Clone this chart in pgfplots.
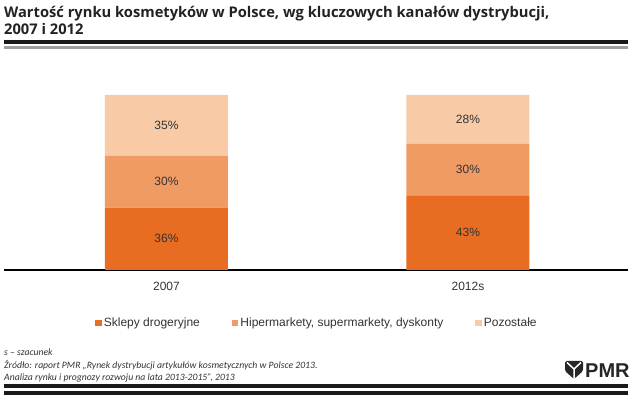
\documentclass[border=0pt]{standalone}
\usepackage{pgfplots}
\pgfplotsset{compat=1.18}
\usepackage{fontspec}
\setmainfont{Liberation Sans}
\newfontfamily\titlefont{Open Sans}
\newfontfamily\notefont[Ligatures=TeX]{Carlito}
\definecolor{cA}{HTML}{E96C23}
\definecolor{cB}{HTML}{F19B64}
\definecolor{cC}{HTML}{F8CAA5}
\definecolor{txt}{HTML}{333333}
\definecolor{ttl}{HTML}{222222}
\begin{document}
\begin{tikzpicture}
\path[use as bounding box] (0pt,0pt) rectangle (633pt,399pt);
% main axis
\begin{axis}[
  at={(4pt,129pt)}, anchor=south west,
  scale only axis, width=624pt, height=175pt,
  xmin=-0.539, xmax=1.531, ymin=0, ymax=101,
  ybar stacked, bar width=0.408,
  axis x line*=bottom, hide y axis,
  axis line style={black, line width=1.1pt},
  xtick={0,1}, xticklabels={2007,2012s},
  major tick length=0,
  xticklabel style={font=\fontsize{12}{14}\selectfont, text=txt, yshift=-9pt},
  clip=false,
  legend columns=3,
  legend style={draw=none, at={(0.5016,-0.303)}, anchor=center,
    font=\fontsize{12}{14}\selectfont, text=txt,
    /tikz/every even column/.append style={column sep=30pt}},
  legend image code/.code={\fill[#1] (0pt,-3.2pt) rectangle (6.5pt,3.3pt);},
]
\addplot[fill=cA, draw=none] coordinates {(0,36) (1,43)};
\addplot[fill=cB, draw=none] coordinates {(0,30) (1,30)};
\addplot[fill=cC, draw=none] coordinates {(0,35) (1,28)};
\legend{Sklepy drogeryjne, {Hipermarkety, supermarkety, dyskonty}, Pozosta\l e}
\end{axis}
% labels axis
\begin{axis}[
  at={(4pt,129pt)}, anchor=south west,
  scale only axis, width=624pt, height=175pt,
  xmin=-0.539, xmax=1.531, ymin=0, ymax=101,
  hide axis, clip=false,
  /pgf/number format/assume math mode=true,
]
\addplot[only marks, mark=none, point meta=explicit,
  nodes near coords={\pgfmathprintnumber{\pgfplotspointmeta}\%},
  nodes near coords align=center,
  every node near coord/.append style={anchor=center, text=txt, font=\fontsize{12}{14}\selectfont}]
  table[x=x, y=y, meta=v, row sep=\\] {
  x y v\\
  0 18 36\\
  0 51 30\\
  0 83.5 35\\
  1 21.5 43\\
  1 58 30\\
  1 87 28\\
};
\end{axis}
\begin{scope}[x=1pt,y=1pt]
% title
\node[anchor=base west, inner sep=0, text=ttl, font=\titlefont\bfseries\fontsize{14.7}{17}\selectfont] at (4,399-18) {Wartość rynku kosmetyków w Polsce, wg kluczowych kanałów dystrybucji,};
\node[anchor=base west, inner sep=0, text=ttl, font=\titlefont\bfseries\fontsize{14.7}{17}\selectfont] at (4,399-35) {2007 i 2012};
\fill[black!90] (4,399-44) rectangle (628,399-40);
\fill[black!38] (4,399-49.5) rectangle (628,399-46.5);
% notes
\node[anchor=base west, inner sep=0, text=txt, font=\notefont\itshape\fontsize{9.7}{11}\selectfont] at (4,399-356) {s – szacunek};
\node[anchor=base west, inner sep=0, text=txt, font=\notefont\itshape\fontsize{9.7}{11}\selectfont] at (4,399-368.5) {Źródło: raport PMR „Rynek dystrybucji artykułów kosmetycznych w Polsce 2013.};
\node[anchor=base west, inner sep=0, text=txt, font=\notefont\itshape\fontsize{9.7}{11}\selectfont] at (4,399-381) {Analiza rynku i prognozy rozwoju na lata 2013-2015”, 2013};
\fill[black!90] (4,399-388) rectangle (628,399-384);
\fill[black!90] (4,399-395) rectangle (628,399-391);
% logo
\fill[black!85, rounded corners=1.5pt] (565,399-361) -- (583,399-361) -- (583,399-371) -- (574,399-379) -- (565,399-371) -- cycle;
\draw[white, line width=1.5pt] (567,399-362.5) -- (574,399-369) -- (581,399-362.5) (574,399-369) -- (574,399-378);
\node[anchor=base west, inner sep=0, text=black!85, font=\bfseries\fontsize{20}{22}\selectfont] at (585,399-378) {PMR};
\end{scope}
\end{tikzpicture}
\end{document}
